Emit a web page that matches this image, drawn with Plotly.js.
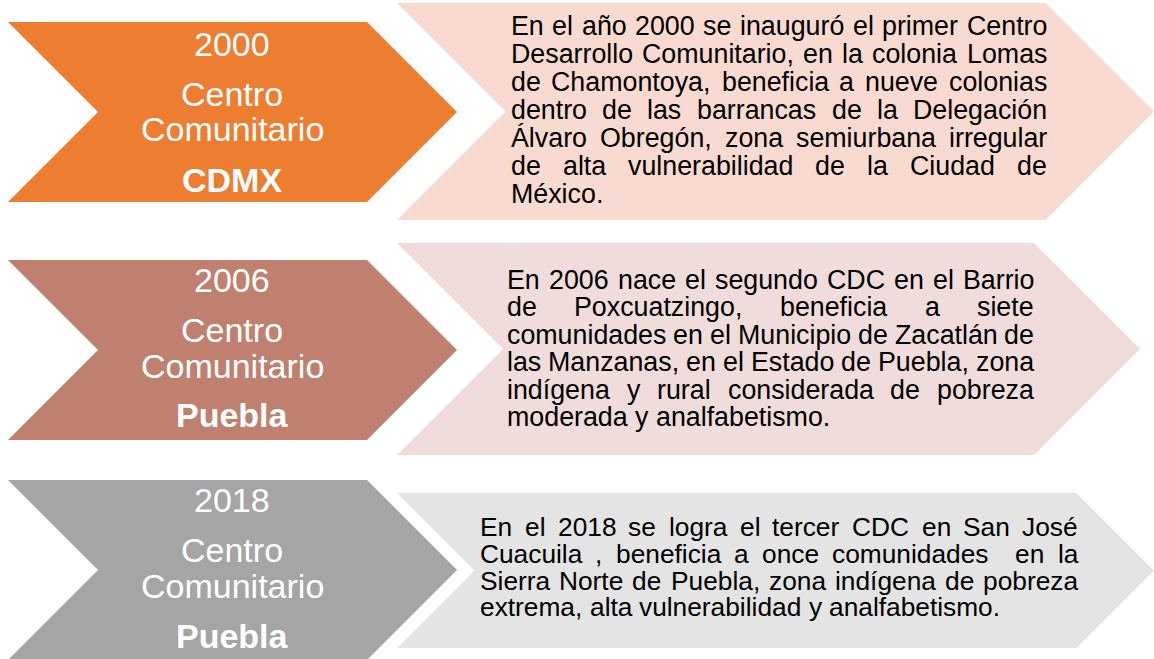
<!DOCTYPE html>
<html>
<head>
<meta charset="utf-8">
<script src="https://cdn.plot.ly/plotly-3.0.1.min.js"></script>
<style>html,body{margin:0;padding:0;background:#fff;}#chart{width:1154px;height:659px;}</style>
</head>
<body>
<div id="chart"></div>
<script>
// ---- content ----
const years = ["2000", "2006", "2018"];
const centerLabels = ["Centro", "Centro", "Centro"];
const centerLabels2 = ["Comunitario", "Comunitario", "Comunitario"];
const places = ["CDMX", "Puebla", "Puebla"];
const darkColors = ["#ED7D31", "#C0806F", "#A5A5A5"];
const lightColors = ["#F8DAD0", "#EFDCDB", "#E4E4E4"];
const desc2000 = [
  "En el año 2000 se inauguró el primer Centro",
  "Desarrollo Comunitario, en la colonia Lomas",
  "de Chamontoya, beneficia a nueve colonias",
  "dentro de las barrancas de la Delegación",
  "Álvaro Obregón, zona semiurbana irregular",
  "de alta vulnerabilidad de la Ciudad de",
  "México."
];
const desc2006 = [
  "En 2006 nace el segundo CDC en el Barrio",
  "de Poxcuatzingo, beneficia a siete",
  "comunidades en el Municipio de Zacatlán de",
  "las Manzanas, en el Estado de Puebla, zona",
  "indígena y rural considerada de pobreza",
  "moderada y analfabetismo."
];
const desc2018 = [
  "En el 2018 se logra el tercer CDC en San José",
  "Cuacuila , beneficia a once comunidades  en la",
  "Sierra Norte de Puebla, zona indígena de pobreza",
  "extrema, alta vulnerabilidad y analfabetismo."
];
const descriptions = [desc2000, desc2006, desc2018];

// ---- layout geometry (pixels == data units) ----
const W = 1154, H = 659;
const leftBoxes = [
  {x0: 8, top: 22, bot: 202, tip: 457},
  {x0: 8, top: 260, bot: 440, tip: 457},
  {x0: 8, top: 480, bot: 660, tip: 457}
];
const rightBoxes = [
  {x0: 397, top: 3, bot: 220, tip: 1154},
  {x0: 397, top: 243, bot: 455, tip: 1140},
  {x0: 397, top: 493, bot: 648, tip: 1154}
];
const labelX = 232;
const labelYs = [[44, 94, 129, 180], [280, 330, 366, 415], [500, 550, 586, 636]];
const textBoxes = [
  {l: 511, r: 1047, y0: 26, dy: 28, size: 26.8},
  {l: 507, r: 1034, y0: 280, dy: 27.4, size: 26.8},
  {l: 480, r: 1078, y0: 527, dy: 26.8, size: 26.3}
];
const FONT = "Liberation Sans, Arial, sans-serif";

function chevron(b) {
  const h = (b.bot - b.top) / 2, mid = b.top + h;
  return `M ${b.x0},${b.top} L ${b.tip - h},${b.top} L ${b.tip},${mid} L ${b.tip - h},${b.bot} L ${b.x0},${b.bot} L ${b.x0 + h},${mid} Z`;
}

const shapes = [];
for (let i = 0; i < 3; i++) {
  shapes.push({type: 'path', path: chevron(rightBoxes[i]), xref: 'x', yref: 'y',
    fillcolor: lightColors[i], line: {width: 0}, layer: 'below'});
  shapes.push({type: 'path', path: chevron(leftBoxes[i]), xref: 'x', yref: 'y',
    fillcolor: darkColors[i], line: {width: 0}, layer: 'below'});
}

const annotations = [];
const canvas = document.createElement('canvas');
const ctx = canvas.getContext('2d');

for (let i = 0; i < 3; i++) {
  const ys = labelYs[i];
  const lbls = [years[i], centerLabels[i], centerLabels2[i], '<b>' + places[i] + '</b>'];
  lbls.forEach((t, k) => {
    annotations.push({x: labelX, y: ys[k], xref: 'x', yref: 'y', text: t, showarrow: false,
      xanchor: 'center', yanchor: 'middle', borderpad: 0,
      font: {family: FONT, size: 34, color: '#FFFFFF'}});
  });
  const tb = textBoxes[i];
  ctx.font = `${tb.size}px "Liberation Sans"`;
  const lines = descriptions[i];
  lines.forEach((line, li) => {
    const y = tb.y0 + li * tb.dy;
    const words = line.split(' ');
    const last = li === lines.length - 1;
    const widths = words.map(w => w ? ctx.measureText(w).width : 0);
    const total = widths.reduce((a, b) => a + b, 0);
    const spaceW = ctx.measureText(' ').width;
    const gap = (last || words.length < 2) ? spaceW : (tb.r - tb.l - total) / (words.length - 1);
    let x = tb.l;
    words.forEach((w, wi) => {
      if (w) {
        annotations.push({x: x, y: y, xref: 'x', yref: 'y', text: w, showarrow: false,
          xanchor: 'left', yanchor: 'middle', borderpad: 0, borderwidth: 0,
          font: {family: FONT, size: tb.size, color: '#000000'}});
      }
      x += widths[wi] + gap;
    });
  });
}

const data = [{x: [], y: [], type: 'scatter', mode: 'markers', hoverinfo: 'skip', showlegend: false}];
const layout = {
  width: W, height: H,
  margin: {l: 0, r: 0, t: 0, b: 0, pad: 0},
  paper_bgcolor: '#FFFFFF', plot_bgcolor: '#FFFFFF',
  xaxis: {range: [0, W], visible: false, fixedrange: true},
  yaxis: {range: [H, 0], visible: false, fixedrange: true},
  shapes: shapes,
  annotations: annotations,
  showlegend: false
};
Plotly.newPlot('chart', data, layout, {displayModeBar: false, staticPlot: true});
</script>
</body>
</html>
